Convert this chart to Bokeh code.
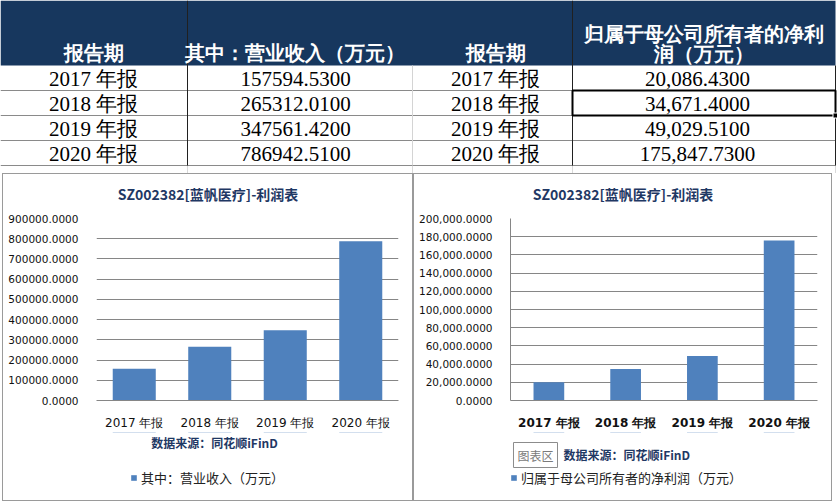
from bokeh.plotting import figure
from bokeh.models import Range1d, FactorRange, NumeralTickFormatter, Label, Legend, LegendItem, Spacer
from bokeh.layouts import column, row
from bokeh.embed import file_html
from bokeh.resources import INLINE
from bokeh.core.properties import value

# ---------------- data ----------------
periods = ["2017 年报", "2018 年报", "2019 年报", "2020 年报"]
revenue = [157594.53, 265312.01, 347561.42, 786942.51]
net_profit = [20086.43, 34671.40, 49029.51, 175847.73]
header_period = "报告期"
header_revenue = "其中：营业收入（万元）"
header_profit_1 = "归属于母公司所有者的净利"
header_profit_2 = "润（万元）"
chart_title = "SZ002382[蓝帆医疗]-利润表"
source_note = "数据来源：同花顺iFinD"
legend_revenue = "其中：营业收入（万元）"
legend_profit = "归属于母公司所有者的净利润（万元）"
chart_area_tip = "图表区"
revenue_ticks = [0, 100000, 200000, 300000, 400000, 500000, 600000, 700000, 800000, 900000]
profit_ticks = [0, 20000, 40000, 60000, 80000, 100000, 120000, 140000, 160000, 180000, 200000]

# ---------------- style ----------------
NAVY = "#17375E"
TITLE_NAVY = "#1F3864"
BAR = "#4F81BD"
GRID = "#868686"
SERIF = "Liberation Serif"
SANS = "DejaVu Sans"
CJK = "Noto Sans CJK SC"

# ---------------- table ----------------
TW, TH = 837, 173
col_edges = [0, 187, 412, 572, 835]
row_edges = [0, 65, 90, 115, 140, 165]
col_centers = [93, 295, 495, 697]

tp = figure(width=TW, height=TH, x_range=Range1d(0, TW), y_range=Range1d(TH, 0),
            x_axis_type=None, y_axis_type=None, output_backend="svg",
            toolbar_location=None, min_border=0)
tp.grid.visible = False
tp.outline_line_color = None
tp.background_fill_color = "white"
tp.border_fill_color = "white"

tp.quad(left=0, right=col_edges[-1], top=0, bottom=row_edges[1], fill_color=NAVY, line_color=None)
tp.segment(x0=col_edges[1:], x1=col_edges[1:], y0=[row_edges[-1]] * 4, y1=[TH] * 4,
           line_color="#d9d9d9", line_width=1)
tp.segment(x0=[0] * 4, x1=[col_edges[-1]] * 4, y0=row_edges[2:], y1=row_edges[2:],
           line_color="#8a8a8a", line_width=1)
tp.segment(x0=[col_edges[2]], x1=[col_edges[2]], y0=[row_edges[1]], y1=[row_edges[-1]],
           line_color="#d4d4d4", line_width=1)
tp.segment(x0=[col_edges[1], col_edges[3], col_edges[4]], x1=[col_edges[1], col_edges[3], col_edges[4]],
           y0=[0, 0, row_edges[1]], y1=[row_edges[-1]] * 3, line_color="#202020", line_width=1)
tp.quad(left=col_edges[3], right=col_edges[4], top=row_edges[2], bottom=row_edges[3],
        fill_color=None, line_color="black", line_width=2)
tp.rect(x=[col_edges[4]], y=[row_edges[3]], width=5, height=5, fill_color="black", line_color="white")

hdr = dict(text_align="center", text_baseline="middle", text_color="white",
           text_font=value(SERIF), text_font_size="20px", text_font_style="bold")
tp.text(x=[col_centers[0], col_centers[2]], y=[52, 52], text=[header_period, header_period], **hdr)
tp.text(x=[col_centers[1] - 1], y=[52], text=[header_revenue], **hdr)
tp.text(x=[703, 703], y=[33, 53], text=[header_profit_1, header_profit_2], **hdr)

row_y = [(row_edges[i] + row_edges[i + 1]) / 2 + 1 for i in range(1, 5)]
rev_txt = [f"{v:.4f}" for v in revenue]
prof_txt = [f"{v:,.4f}" for v in net_profit]
for cx, texts in zip(col_centers, [periods, rev_txt, periods, prof_txt]):
    tp.text(x=[cx] * 4, y=row_y, text=texts, text_align="center", text_baseline="middle",
            text_color="black", text_font=value(SERIF), text_font_size="21px")

# ---------------- charts ----------------
HEAD_H, BODY_H, FOOT_H = 37, 221, 68
BT, FH = 7, 186
RIGHT = 14


def make_chart(values, ymax, ticks, fmt, bar_w, width, left, bold_x, show_yline):
    # title strip (its frame is aligned with the chart's frame by the column layout)
    head = figure(width=width, height=HEAD_H, x_range=FactorRange(*periods), y_range=Range1d(-2, -1),
                  x_axis_type=None, y_axis_type=None, output_backend="svg",
                  toolbar_location=None, min_border=0)
    head.grid.visible = False
    head.outline_line_color = None
    head.border_fill_color = "white"
    head.add_layout(Label(x=width / 2 - left, y=HEAD_H - 19, x_units="screen", y_units="screen",
                          text=chart_title, text_align="center", text_baseline="middle",
                          text_font=CJK, text_font_size="14px", text_font_style="bold",
                          text_color=TITLE_NAVY))
    # chart body
    p = figure(x_range=FactorRange(*periods), y_range=Range1d(0, ymax), width=width, height=BODY_H,
               output_backend="svg", toolbar_location=None,
               min_border_left=left, min_border_right=RIGHT,
               min_border_top=BT, min_border_bottom=BODY_H - BT - FH)
    p.vbar(x=periods, top=values, width=bar_w, fill_color=BAR, line_color=None)
    p.outline_line_color = None
    p.xgrid.visible = False
    p.ygrid.grid_line_color = GRID
    p.ygrid.grid_line_width = 1
    p.yaxis.ticker = ticks
    p.yaxis.formatter = NumeralTickFormatter(format=fmt)
    p.yaxis.major_tick_line_color = None
    p.yaxis.minor_tick_line_color = None
    p.yaxis.axis_line_color = GRID if show_yline else None
    p.yaxis.major_label_standoff = 12
    p.yaxis.major_label_text_font = SANS
    p.yaxis.major_label_text_font_size = "10.5px"
    p.yaxis.major_label_text_color = "#111111"
    p.xaxis.axis_line_color = GRID
    p.xaxis.major_tick_line_color = None
    p.xaxis.minor_tick_line_color = None
    p.xaxis.major_label_standoff = 9
    p.xaxis.major_label_text_font = SANS
    p.xaxis.major_label_text_font_size = "12px"
    p.xaxis.major_label_text_color = "#111111"
    p.xaxis.major_label_text_font_style = "bold" if bold_x else "normal"
    p.background_fill_color = "white"
    p.border_fill_color = "white"
    # footer strip: source note + legend (legend renderer sits outside the visible range)
    foot = figure(width=width, height=FOOT_H, x_range=FactorRange(*periods), y_range=Range1d(-2, -1),
                  x_axis_type=None, y_axis_type=None, output_backend="svg",
                  toolbar_location=None, min_border=0)
    foot.grid.visible = False
    foot.outline_line_color = None
    foot.border_fill_color = "white"
    foot.background_fill_color = "white"
    lr = foot.vbar(x=periods, top=values, width=bar_w, fill_color=BAR, line_color=None)
    return head, p, foot, lr


def legend_for(foot, renderer, text, glyph_x, center_y, left):
    foot.add_layout(Legend(items=[LegendItem(label=text, renderers=[renderer])],
                           location=(glyph_x - left, FOOT_H - (center_y + 9)),
                           glyph_width=7, glyph_height=7,
                           label_text_font=CJK, label_text_font_size="13px",
                           label_text_color="#222222", label_height=14,
                           label_standoff=4, padding=0, margin=0, border_line_color=None,
                           background_fill_alpha=0))


# chart 1: revenue  (inner coords: x from chart's inner left edge, y from footer top)
L1 = 93
h1, p1, f1, lr1 = make_chart(revenue, 900000, revenue_ticks, "0.0000", 0.57, 409, L1, False, False)
f1.add_layout(Label(x=211 - L1, y=FOOT_H - 10, x_units="screen", y_units="screen",
                    text=source_note, text_align="center", text_baseline="middle",
                    text_font=CJK, text_font_size="12px", text_font_style="bold",
                    text_color=TITLE_NAVY))
legend_for(f1, lr1, legend_revenue, 127, 46, L1)

# chart 2: net profit
L2 = 96
h2, p2, f2, lr2 = make_chart(net_profit, 200000, profit_ticks, "0,0.0000", 0.4, 417, L2, True, True)
f2.add_layout(Label(x=121 - L2 + 2, y=FOOT_H - 22.5 - 2, x_units="screen", y_units="screen",
                    text=chart_area_tip, text_align="center",
                    text_baseline="middle", text_font=CJK, text_font_size="12px", text_alpha=0,
                    background_fill_color="#cfcfcf", padding=4))
f2.add_layout(Label(x=121 - L2, y=FOOT_H - 22.5, x_units="screen", y_units="screen",
                    text=chart_area_tip, text_align="center",
                    text_baseline="middle", text_font=CJK, text_font_size="12px",
                    text_color="#7a7a7a", background_fill_color="white",
                    border_line_color="#8c8c8c", padding=4))
f2.add_layout(Label(x=149 - L2, y=FOOT_H - 22, x_units="screen", y_units="screen",
                    text=source_note, text_align="left", text_baseline="middle",
                    text_font=CJK, text_font_size="12px", text_font_style="bold",
                    text_color=TITLE_NAVY))
legend_for(f2, lr2, legend_profit, 96, 46, L2)

border = {"border": "1px solid #9a9a9a"}
c1 = column(h1, p1, f1, spacing=0, styles=border)
c2 = column(h2, p2, f2, spacing=0, styles=border)

layout = column(tp, row(Spacer(width=2, height=10), c1, c2, spacing=0), spacing=0)
open("out.html", "w").write(file_html(layout, INLINE))
